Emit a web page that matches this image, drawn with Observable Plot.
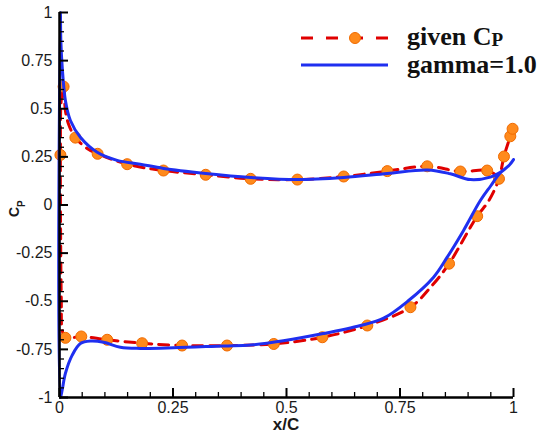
<!DOCTYPE html>
<html>
<head>
<meta charset="utf-8">
<script src="https://cdn.jsdelivr.net/npm/d3@7"></script>
<script src="https://cdn.jsdelivr.net/npm/@observablehq/plot@0.6"></script>
<style>
  html, body { margin: 0; padding: 0; background: white; }
  #chart { position: relative; width: 542px; height: 434px; }
</style>
</head>
<body>
<div id="chart"></div>
<script>
// ---- Data ----
// gamma=1.0 (blue solid), upper branch from leading edge to trailing edge
const gammaUpperX = [0.002, 0.003, 0.006, 0.013, 0.024, 0.046, 0.083, 0.127, 0.178, 0.229, 0.322, 0.421, 0.524, 0.626, 0.722, 0.811, 0.861, 0.905, 0.949, 0.971, 0.99, 1.0];
const gammaUpperY = [1.0, 0.85, 0.716, 0.543, 0.439, 0.352, 0.274, 0.232, 0.212, 0.19, 0.164, 0.143, 0.132, 0.143, 0.164, 0.182, 0.162, 0.132, 0.145, 0.17, 0.205, 0.236];
// gamma=1.0 lower branch from leading edge to trailing edge
const gammaLowerX = [0.002, 0.006, 0.013, 0.028, 0.046, 0.068, 0.097, 0.134, 0.178, 0.251, 0.361, 0.421, 0.493, 0.581, 0.663, 0.714, 0.767, 0.824, 0.854, 0.89, 0.927, 0.95, 0.97, 0.99, 1.0];
const gammaLowerY = [-1.0, -0.96, -0.875, -0.78, -0.72, -0.707, -0.713, -0.739, -0.745, -0.742, -0.732, -0.727, -0.705, -0.668, -0.626, -0.588, -0.5, -0.375, -0.271, -0.132, 0.023, 0.1, 0.165, 0.205, 0.236];

// given Cp (red dashed), upper branch from leading edge to trailing edge
const givenUpperX = [0.009, 0.013, 0.02, 0.035, 0.06, 0.084, 0.149, 0.229, 0.322, 0.421, 0.524, 0.626, 0.722, 0.81, 0.883, 0.942, 0.965];
const givenUpperY = [0.615, 0.49, 0.42, 0.35, 0.295, 0.266, 0.212, 0.179, 0.157, 0.136, 0.132, 0.148, 0.176, 0.201, 0.174, 0.179, 0.15];
// given Cp near the leading edge (x ≈ 0)
const givenNoseX = [0.004, 0.002, 0.004, 0.006];
const givenNoseY = [0.55, 0.26, -0.5, -0.65];
// given Cp lower branch from leading edge to trailing edge
const givenLowerX = [0.013, 0.048, 0.105, 0.182, 0.27, 0.369, 0.472, 0.579, 0.678, 0.773, 0.82, 0.858, 0.92, 0.945, 0.968, 0.979, 0.993, 0.998];
const givenLowerY = [-0.69, -0.683, -0.70, -0.718, -0.73, -0.73, -0.722, -0.687, -0.626, -0.531, -0.42, -0.305, -0.058, 0.02, 0.136, 0.252, 0.357, 0.396];

// given Cp sample points drawn as circles
const markerX = [0.002, 0.009, 0.035, 0.084, 0.149, 0.229, 0.322, 0.421, 0.524, 0.626, 0.722, 0.81, 0.883, 0.942, 0.968, 0.979, 0.993, 0.998,
                 0.013, 0.048, 0.105, 0.182, 0.27, 0.369, 0.472, 0.579, 0.678, 0.773, 0.858, 0.92];
const markerY = [0.26, 0.615, 0.35, 0.266, 0.212, 0.179, 0.157, 0.136, 0.132, 0.148, 0.176, 0.201, 0.174, 0.179, 0.136, 0.252, 0.357, 0.396,
                 -0.69, -0.683, -0.70, -0.718, -0.73, -0.73, -0.722, -0.687, -0.626, -0.531, -0.305, -0.058];

// Ticks
const xTicks = [0, 0.25, 0.5, 0.75, 1];
const yTicks = [-1, -0.75, -0.5, -0.25, 0, 0.25, 0.5, 0.75, 1];
const xMinor = d3.range(0, 1.0001, 0.05).map(v => +v.toFixed(2)).filter(v => !xTicks.includes(v));
const yMinor = d3.range(-1, 1.0001, 0.05).map(v => +v.toFixed(2)).filter(v => !yTicks.includes(v));

// Legend labels
const seriesNames = ["given C", "gamma=1.0"];

// ---- Build tables ----
const zip = (xs, ys) => xs.map((x, i) => ({x, y: ys[i]}));
const gammaPath = [...zip(gammaUpperX, gammaUpperY).reverse(), ...zip(gammaLowerX, gammaLowerY)];
const givenPath = [...zip(givenUpperX, givenUpperY).reverse(), ...zip(givenNoseX, givenNoseY), ...zip(givenLowerX, givenLowerY)];
const markers = zip(markerX, markerY);

const RED = "#e00000", BLUE = "#1f2ff0", ORANGE = "#ff8a1c", ORANGE_EDGE = "#f06a00";
const mL = 59, mR = 29, mT = 12, mB = 37, W = 542, H = 434;
const frameW = W - mL - mR, frameH = H - mT - mB;

const chart = Plot.plot({
  width: W, height: H,
  marginLeft: mL, marginRight: mR, marginTop: mT, marginBottom: mB,
  x: {domain: [0, 1]},
  y: {domain: [-1, 1]},
  style: {fontFamily: "'Liberation Sans', Arial, Helvetica, sans-serif", fontSize: "16px", color: "#1a1a1a", background: "white", overflow: "visible"},
  marks: [
    Plot.line(givenPath, {x: "x", y: "y", stroke: RED, strokeWidth: 3, strokeDasharray: "10,7", curve: "catmull-rom"}),
    Plot.dot(markers, {x: "x", y: "y", r: 5.5, fill: ORANGE, stroke: ORANGE_EDGE, strokeWidth: 1}),
    Plot.line(gammaPath, {x: "x", y: "y", stroke: BLUE, strokeWidth: 3, curve: "catmull-rom"}),
    Plot.tickX(xTicks, {x: d => d, insetTop: frameH - 9, stroke: "black", strokeWidth: 2}),
    Plot.tickX(xMinor, {x: d => d, insetTop: frameH - 5, stroke: "black", strokeWidth: 1.3}),
    Plot.tickY(yTicks, {y: d => d, insetRight: frameW - 9, stroke: "black", strokeWidth: 2}),
    Plot.tickY(yMinor, {y: d => d, insetRight: frameW - 5, stroke: "black", strokeWidth: 1.3}),
    Plot.ruleX([0], {stroke: "black", strokeWidth: 2.5}),
    Plot.ruleY([-1], {stroke: "black", strokeWidth: 2.5}),
    Plot.axisX({ticks: xTicks, tickSize: 0, tickPadding: 4, tickFormat: d => String(d), label: null}),
    Plot.axisY({ticks: yTicks, tickSize: 0, tickPadding: 7, tickFormat: d => String(d), label: null})
  ]
});
document.getElementById("chart").appendChild(chart);

// ---- Axis titles and legend ----
const svg = d3.select(chart);
svg.append("text")
  .attr("x", 286).attr("y", 430)
  .attr("text-anchor", "middle")
  .style("font", "bold 17px 'Liberation Sans', Arial, sans-serif")
  .attr("fill", "#1a1a1a")
  .text("x/C");

const cp = svg.append("text")
  .attr("transform", "translate(19,217) rotate(-90)")
  .attr("text-anchor", "start")
  .style("font", "bold 14px 'Liberation Sans', Arial, sans-serif")
  .attr("fill", "#1a1a1a");
cp.append("tspan").text("C");
cp.append("tspan").attr("dy", 6).style("font-size", "10px").text("P");

const lg = svg.append("g").attr("text-anchor", "start");
const serif = "'Liberation Serif', 'Times New Roman', serif";
// given Cp entry
lg.append("line").attr("x1", 301).attr("x2", 388).attr("y1", 38).attr("y2", 38)
  .attr("stroke", RED).attr("stroke-width", 3).attr("stroke-dasharray", "12,13");
lg.append("circle").attr("cx", 355).attr("cy", 38).attr("r", 5.5)
  .attr("fill", ORANGE).attr("stroke", ORANGE_EDGE);
const t1 = lg.append("text").attr("x", 407).attr("y", 45).attr("text-anchor", "start")
  .style("font", `bold 26px ${serif}`).attr("fill", "#111");
t1.append("tspan").text(seriesNames[0]);
t1.append("tspan").attr("dy", 1).style("font-size", "19px").text("P");
// gamma entry
lg.append("line").attr("x1", 301).attr("x2", 388).attr("y1", 65).attr("y2", 65)
  .attr("stroke", BLUE).attr("stroke-width", 3);
lg.append("text").attr("x", 407).attr("y", 73).attr("text-anchor", "start")
  .style("font", `bold 26px ${serif}`).attr("fill", "#111")
  .text(seriesNames[1]);
</script>
</body>
</html>
